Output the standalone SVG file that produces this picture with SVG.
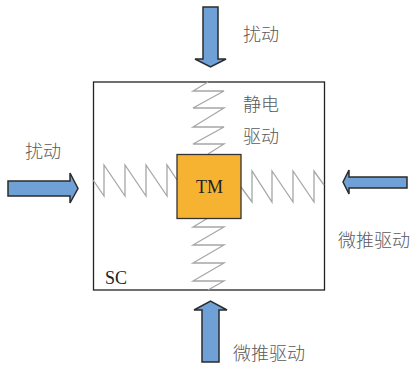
<svg xmlns="http://www.w3.org/2000/svg" width="411" height="367" viewBox="0 0 411 367">
<style>
.arrow{fill:#6fa1d6;stroke:#2b2b2b;stroke-width:1.5}
.spring{fill:none;stroke:#a6a6a6;stroke-width:1.3}
.cn{font-family:"Noto Sans CJK SC",sans-serif;font-size:18px;font-weight:300;fill:#5a5a5a}
.en{font-family:"Liberation Serif",serif;font-size:18px;fill:#222}
</style>
<rect width="411" height="367" fill="#fff"/>
<g id="SC"><rect x="93.5" y="82" width="231" height="208" fill="none" stroke="#222" stroke-width="1.3"/><text class="en" x="105" y="284">SC</text></g>
<g id="connectors">
<polyline class="spring" points="208,82 193,91 224,91 193,108 224,108 193,127 224,127 193,144 224,144 208,154"/>
<polyline class="spring" points="93,180 104,196 104,165 125,196 125,165 146,196 146,165 167,196 167,165 177,180"/>
<polyline class="spring" points="241,187 252,202 252,171 272,202 272,171 293,202 293,171 314,202 314,171 324,185"/>
<polyline class="spring" points="208,218 193,227 224,227 193,245 224,245 193,263 224,263 193,281 224,281 208,290"/>
</g>
<g id="TM"><rect x="177" y="154.500" width="64" height="64" fill="#f6b332" stroke="#333" stroke-width="1.300"/><text class="en" x="209.500" y="193" text-anchor="middle">TM</text></g>
<g id="arrow-top"><polygon class="arrow" points="203,7 218,7 218,59 226,59 210.500,67 195,59 203,59"/></g>
<g id="arrow-left"><polygon class="arrow" points="8,181 70,181 70,173 78,188.500 70,203 70,196 8,196"/></g>
<g id="arrow-right"><polygon class="arrow" points="407,177 349,177 349,170 343,182 349,194 349,188 407,188"/></g>
<g id="arrow-bottom"><polygon class="arrow" points="202,362 219,362 219,310 227,310 210.500,301 194,310 202,310"/></g>
<g id="labels">
<text class="cn" x="243" y="41">扰动</text>
<text class="cn" x="243" y="111">静电</text>
<text class="cn" x="243" y="143">驱动</text>
<text class="cn" x="25" y="158">扰动</text>
<text class="cn" x="338" y="247">微推驱动</text>
<text class="cn" x="233" y="360">微推驱动</text>
</g>
</svg>
